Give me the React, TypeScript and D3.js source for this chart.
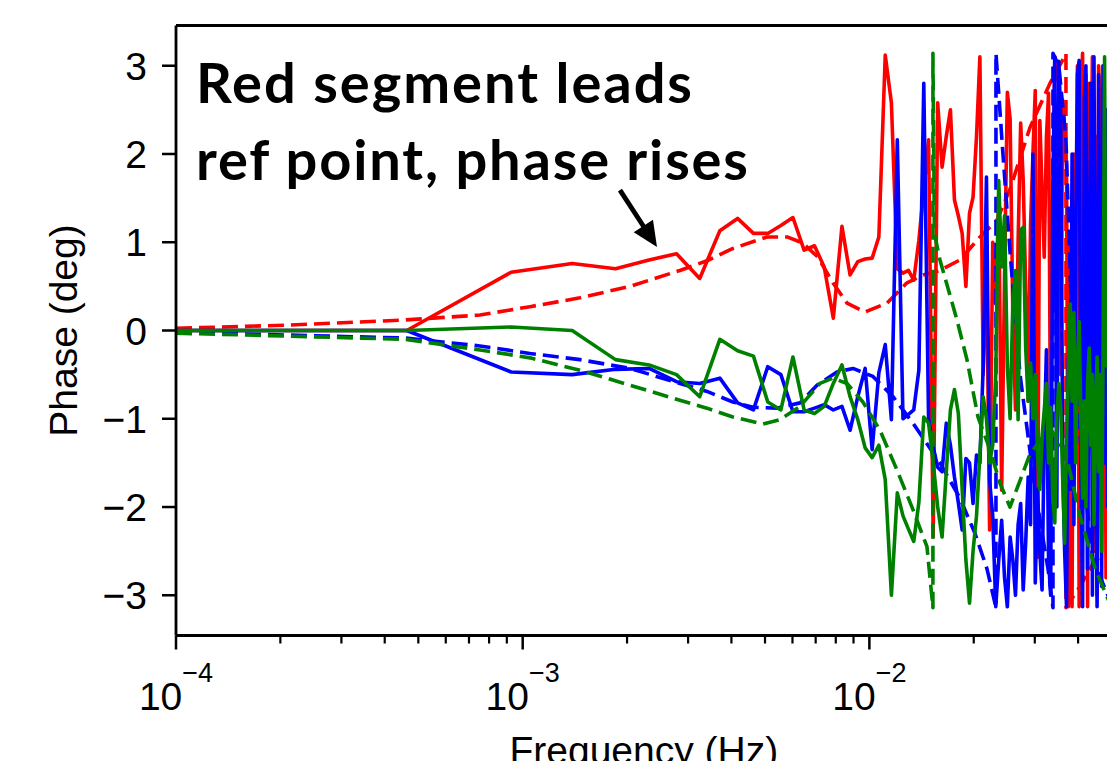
import React from 'react';
import * as d3 from 'd3';

// ---------------- data ----------------
const X_DOMAIN: [number, number] = [1e-4, 5e-2];
const Y_LIMIT = 1.1 * Math.PI;
const Y_TICKS = [-3, -2, -1, 0, 1, 2, 3];
const X_MAJOR = [1e-4, 1e-3, 1e-2];
const X_MAJOR_EXP = ['\u22124', '\u22123', '\u22122'];
const X_MINOR_MULT = [2, 3, 4, 5, 6, 7, 8, 9];

// FFT bin spacing (Hz); first entry is the DC bin drawn at the left axis edge
const BIN_DF = 4.63e-4;
const SOLID_F = [1e-4, ...d3.range(1, 109).map((k) => k * BIN_DF)];

const RED_SOLID = [
  0,
  0, 0.66, 0.76, 0.70, 0.80, 0.87, 0.59, 1.13, 1.27, 1.10,
  1.10, 1.19, 1.28, 0.91, 0.96, 0.72, 0.14, 1.18, 0.63, 0.78,
  0.81, 0.82, 1.06, 3.12, 2.58, 0.70, 0.65, 0.68, 0.57, 1.02,
  1.60, 2.16, -2.34, 2.58, 1.85, 2.20, 2.50, 1.48, 1.30, 1.10,
  0.50, 1.33, 1.51, 2.20, 3.10, -0.50, 0.90, -2.26, 1.00, 0.30,
  1.50, -1.81, 0.60, 2.70, 2.40, 0.20, -0.90, 1.00, 2.35, 1.70,
  0.50, -0.80, 1.20, 2.00, 2.72, -2.57, 2.38, 1.60, 0.83, 2.19,
  2.69, -1.50, 1.20, 3.10, 2.90, 2.80, -0.50, 2.61, 2.30, 1.85,
  -3.13, 1.00, -3.13, 2.00, -1.00, 3.00, -3.13, 2.60, 3.14, -2.00,
  2.90, -3.13, 2.80, 1.50, 3.10, -2.50, 2.20, -3.00, 3.00, 2.50,
  -1.00, 3.00, 1.00, -2.80, 2.00, -1.00, 2.50, -2.00,
];

const BLUE_SOLID = [
  0,
  0, -0.47, -0.50, -0.44, -0.43, -0.58, -0.60, -0.54, -0.82, -0.90,
  -0.41, -0.50, -0.92, -0.92, -0.88, -0.84, -0.90, -0.86, -1.13, -0.75,
  -0.43, -1.35, -0.48, -0.16, -1.01, 2.16, -1.00, -0.95, -0.90, -0.45,
  2.80, -1.00, -1.32, -1.55, -1.60, -1.05, -1.30, -1.66, -1.95, -2.26,
  -1.45, -1.50, -1.96, -1.41, -1.50, -0.40, 1.74, -1.70, -2.10, -3.13,
  -2.60, -2.15, -2.80, -3.13, -2.34, -2.60, -3.00, -2.20, -1.96, -2.94,
  -2.40, -1.66, -2.20, 2.00, -2.86, -1.80, -2.50, -2.94, -1.20, -0.22,
  -2.60, -3.00, 1.50, 3.10, -2.00, 3.05, 2.40, -1.50, -2.50, -3.13,
  -0.30, -1.80, 2.00, -2.20, 1.00, 2.90, 3.06, -1.50, -3.13, 2.60,
  3.00, -2.70, 0.50, 2.80, -3.00, 3.10, -0.80, -3.13, 2.90, 0.30,
  -2.90, 3.00, -1.50, 2.50, -2.00, 1.00, -2.50, 2.00,
];

const GREEN_SOLID = [
  0,
  0, 0.04, 0.00, -0.33, -0.39, -0.50, -0.75, -0.10, -0.23, -0.29,
  -0.81, -0.90, -0.30, -0.90, -0.94, -0.86, -0.60, -0.39, -0.75, -1.01,
  -1.33, -1.44, -1.30, -1.69, -3.00, -1.84, -2.10, -2.25, -2.39, -1.95,
  -0.98, -1.05, -1.50, -2.00, -2.34, -1.60, -0.90, -0.67, -0.94, -1.80,
  -2.60, -3.09, -2.50, -2.10, -1.40, -0.75, -1.00, -1.50, -1.30, -0.50,
  1.70, 0.72, 1.30, -0.40, -1.00, 0.30, 0.68, -1.01, 1.14, 1.17,
  -0.20, -0.80, -0.37, -1.00, -0.50, -1.40, -1.80, -1.20, -0.90, -0.60,
  -1.50, -0.87, -1.90, -2.18, -1.00, -0.60, -0.90, -1.70, -2.41, -1.20,
  -0.50, 0.30, -0.80, 0.20, -1.50, -0.37, 0.10, -1.00, -1.90, -0.80,
  -2.00, -0.60, -0.20, -1.30, -0.50, -2.20, -0.90, -0.30, -1.60, -0.50,
  -2.50, -0.20, 3.10, -0.40, 1.00, -1.20, 0.50, -1.00,
];

const RED_DASH_F = [
  1e-4, 2.08e-4, 4.6e-4, 7.53e-4, 1.05e-3, 1.463e-3, 2.04e-3, 2.84e-3, 3.4e-3, 4.04e-3,
  5.07e-3, 5.79e-3, 6.43e-3, 7.11e-3, 7.85e-3, 8.62e-3, 9.71e-3, 1.124e-2, 1.284e-2, 1.428e-2,
  1.598e-2, 1.825e-2, 2.085e-2, 2.333e-2, 2.544e-2, 2.906e-2, 3.318e-2, 3.594e-2, 3.69e-2, 3.6901e-2,
  4.05e-2, 4.48e-2, 5.0e-2,
];
const RED_DASH = [
  0.025, 0.06, 0.12, 0.175, 0.27, 0.37, 0.50, 0.68, 0.79, 0.93,
  1.06, 1.06, 0.99, 0.83, 0.54, 0.31, 0.21, 0.31, 0.54, 0.63,
  0.68, 0.80, 1.06, 1.25, 1.60, 2.30, 2.80, 3.05, 3.14, -3.14,
  -2.90, -2.60, -2.50,
];

const BLUE_DASH_F = [
  1e-4, 4.6e-4, 7.53e-4, 1.05e-3, 1.463e-3, 2.04e-3, 2.84e-3, 3.4e-3, 4.04e-3, 4.62e-3,
  5.41e-3, 6.31e-3, 7.06e-3, 8.06e-3, 8.97e-3, 1.024e-2, 1.17e-2, 1.336e-2, 1.598e-2, 1.825e-2,
  2.017e-2, 2.184e-2, 2.318e-2, 2.3181e-2, 2.428e-2, 2.544e-2, 2.72e-2, 3.004e-2, 3.275e-2, 3.385e-2,
  3.3851e-2, 3.52e-2, 3.69e-2, 3.85e-2, 4.13e-2, 4.415e-2, 5.0e-2,
];
const BLUE_DASH = [
  -0.02, -0.085, -0.175, -0.26, -0.33, -0.43, -0.60, -0.69, -0.81, -0.87,
  -0.88, -0.82, -0.62, -0.47, -0.43, -0.52, -0.75, -1.05, -1.50, -1.90,
  -2.30, -2.70, -3.14, 3.14, 2.00, 0.90, -0.50, -1.80, -2.70, -3.14,
  3.14, 3.00, 2.16, -0.10, -1.60, -2.60, -3.10,
];

const GREEN_DASH_F = [
  1e-4, 4.6e-4, 7.53e-4, 1.05e-3, 1.463e-3, 2.04e-3, 2.84e-3, 3.4e-3, 4.04e-3, 4.93e-3,
  5.52e-3, 6.31e-3, 7.2e-3, 7.85e-3, 8.62e-3, 9.58e-3, 1.073e-2, 1.201e-2, 1.336e-2, 1.466e-2,
  1.525e-2, 1.5251e-2, 1.54e-2, 1.598e-2, 1.789e-2, 1.912e-2, 2.057e-2, 2.228e-2, 2.381e-2, 2.544e-2,
  2.72e-2, 2.906e-2, 3.318e-2, 3.69e-2, 4.05e-2, 4.48e-2, 5.0e-2,
];
const GREEN_DASH = [
  -0.03, -0.10, -0.22, -0.31, -0.45, -0.62, -0.79, -0.88, -0.98, -1.06,
  -1.01, -0.86, -0.60, -0.54, -0.60, -0.81, -1.13, -1.58, -2.03, -2.45,
  -3.14, 3.14, 1.10, 0.80, 0.12, -0.33, -0.98, -1.35, -1.73, -2.00,
  -1.70, -1.40, -1.10, -1.40, -2.10, -2.70, -3.14,
];

const ANNOT_LINES = ['Red segment leads', 'ref point, phase rises'];
const ANNOT_AT = { f: 1.142e-4, v: 2.576 };
const ARROW_TAIL = { f: 1.908e-3, v: 1.59 };
const ARROW_TIP = { f: 2.44e-3, v: 0.946 };

const X_LABEL = 'Frequency (Hz)';
const Y_LABEL = 'Phase (deg)';

// ---------------- layout / style ----------------
const W = 1107;
const H = 761;
const PLOT = { left: 176, right: 1111.7, top: 25.5, bottom: 635.5 };
const RED = '#ff0000';
const BLUE = '#0000ff';
const GREEN = '#008000';
const TICK_FONT = "'Liberation Sans', Arial, Helvetica, sans-serif";
const ANNOT_FONT = "Lato, 'Open Sans', sans-serif";
const ANNOT_WIDTHS = [496, 552];

type Pt = [number, number];
const zip = (fs: number[], vs: number[]): Pt[] => fs.map((f, i) => [f, vs[i]] as Pt);

const SERIES = [
  { pts: zip(SOLID_F, RED_SOLID), color: RED, dashed: false },
  { pts: zip(RED_DASH_F, RED_DASH), color: RED, dashed: true },
  { pts: zip(SOLID_F, BLUE_SOLID), color: BLUE, dashed: false },
  { pts: zip(BLUE_DASH_F, BLUE_DASH), color: BLUE, dashed: true },
  { pts: zip(SOLID_F, GREEN_SOLID), color: GREEN, dashed: false },
  { pts: zip(GREEN_DASH_F, GREEN_DASH), color: GREEN, dashed: true },
];

export default function App() {
  const x = d3.scaleLog().domain(X_DOMAIN).range([PLOT.left, PLOT.right]);
  const y = d3.scaleLinear().domain([-Y_LIMIT, Y_LIMIT]).range([PLOT.bottom, PLOT.top]);
  const line = d3
    .line<Pt>()
    .x((d) => x(d[0]))
    .y((d) => y(d[1]));

  const minor: number[] = [];
  X_MAJOR.forEach((dec) =>
    X_MINOR_MULT.forEach((m) => {
      const v = m * dec;
      if (v <= X_DOMAIN[1] * 1.0001) minor.push(v);
    })
  );

  // arrow geometry
  const tx = x(ARROW_TIP.f);
  const ty = y(ARROW_TIP.v);
  const sx = x(ARROW_TAIL.f);
  const sy = y(ARROW_TAIL.v);
  const len = Math.hypot(tx - sx, ty - sy);
  const ux = (tx - sx) / len;
  const uy = (ty - sy) / len;
  const headL = 25;
  const headW = 11.5;
  const bx = tx - ux * headL;
  const by = ty - uy * headL;
  const head = `${tx},${ty} ${bx - uy * headW},${by + ux * headW} ${bx + uy * headW},${by - ux * headW}`;

  const ax = x(ANNOT_AT.f);
  const ay = y(ANNOT_AT.v);

  return (
    <svg
      width={W}
      height={H}
      style={{ position: 'fixed', left: 0, top: 0, background: '#fff' }}
      xmlns="http://www.w3.org/2000/svg"
    >
      <defs>
        <clipPath id="plotclip">
          <rect x={PLOT.left} y={PLOT.top} width={PLOT.right - PLOT.left} height={PLOT.bottom - PLOT.top} />
        </clipPath>
      </defs>
      <rect x={0} y={0} width={W} height={H} fill="#fff" />

      <g clipPath="url(#plotclip)">
        {SERIES.map((s, i) => (
          <path
            key={i}
            d={line(s.pts) || ''}
            fill="none"
            stroke={s.color}
            strokeWidth={3.6}
            strokeDasharray={s.dashed ? '16 7' : undefined}
            strokeLinejoin="round"
            strokeLinecap={s.dashed ? 'butt' : 'square'}
          />
        ))}
      </g>

      {/* spines */}
      <g stroke="#000" strokeWidth={2.8} fill="none">
        <line x1={PLOT.left} x2={PLOT.left} y1={PLOT.top} y2={PLOT.bottom} />
        <line x1={PLOT.left} x2={PLOT.right} y1={PLOT.bottom} y2={PLOT.bottom} />
        <line x1={PLOT.left} x2={PLOT.right} y1={PLOT.top} y2={PLOT.top} />
        <line x1={PLOT.right} x2={PLOT.right} y1={PLOT.top} y2={PLOT.bottom} />
      </g>

      {/* y ticks */}
      <g>
        {Y_TICKS.map((t) => (
          <g key={t}>
            <line x1={PLOT.left - 14} x2={PLOT.left} y1={y(t)} y2={y(t)} stroke="#000" strokeWidth={2.5} />
            <text
              x={PLOT.left - 29}
              y={y(t)}
              dy="0.36em"
              textAnchor="end"
              fontFamily={TICK_FONT}
              fontSize={39}
              fill="#000"
            >
              {t < 0 ? `\u2212${Math.abs(t)}` : `${t}`}
            </text>
          </g>
        ))}
      </g>

      {/* x ticks */}
      <g>
        {minor.map((m) => (
          <line key={m} x1={x(m)} x2={x(m)} y1={PLOT.bottom} y2={PLOT.bottom + 8} stroke="#000" strokeWidth={2.2} />
        ))}
        {X_MAJOR.map((t, i) => (
          <g key={t}>
            <line x1={x(t)} x2={x(t)} y1={PLOT.bottom} y2={PLOT.bottom + 14} stroke="#000" strokeWidth={2.5} />
            <text x={x(t)} y={710} textAnchor="middle" fontFamily={TICK_FONT} fill="#000">
              <tspan fontSize={39}>10</tspan>
              <tspan fontSize={27} dy={-28}>
                {X_MAJOR_EXP[i]}
              </tspan>
            </text>
          </g>
        ))}
      </g>

      {/* axis labels */}
      <text
        x={(PLOT.left + PLOT.right) / 2}
        y={764}
        textAnchor="middle"
        fontFamily={TICK_FONT}
        fontSize={39}
        fill="#000"
      >
        {X_LABEL}
      </text>
      <text
        transform={`translate(77, ${(PLOT.top + PLOT.bottom) / 2}) rotate(-90)`}
        textAnchor="middle"
        fontFamily={TICK_FONT}
        fontSize={39}
        fill="#000"
      >
        {Y_LABEL}
      </text>

      {/* annotation */}
      {ANNOT_LINES.map((l, i) => (
        <text
          key={i}
          x={ax}
          y={ay + i * 77}
          fontFamily={ANNOT_FONT}
          fontWeight={700}
          fontSize={56}
          fill="#000"
          textLength={ANNOT_WIDTHS[i]}
          lengthAdjust="spacing"
        >
          {l}
        </text>
      ))}
      <line x1={sx} y1={sy} x2={bx + ux * 2} y2={by + uy * 2} stroke="#000" strokeWidth={4.8} />
      <polygon points={head} fill="#000" />
    </svg>
  );
}
